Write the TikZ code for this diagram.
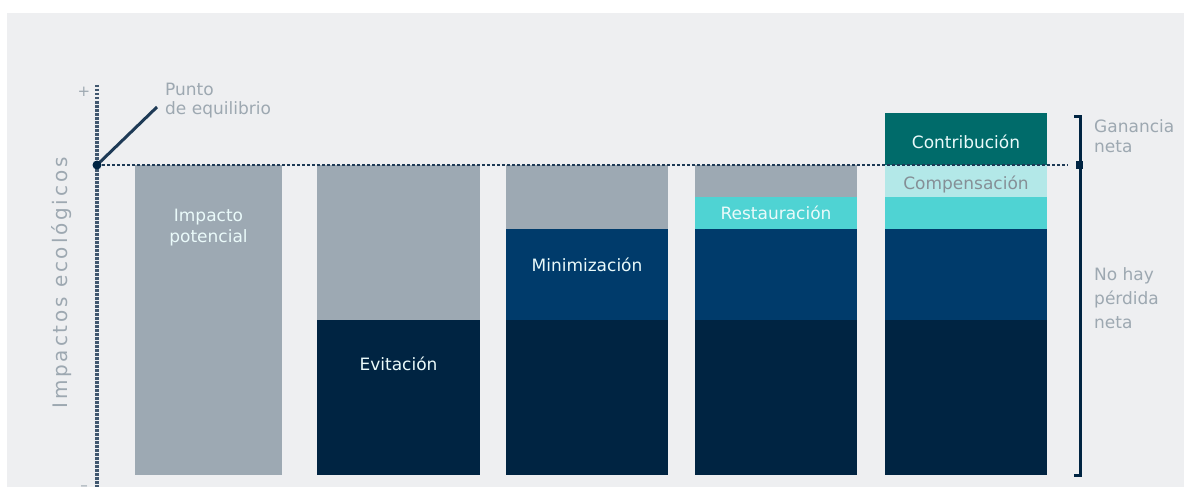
\documentclass[tikz,border=0pt]{standalone}
\usepackage{fontspec}
\setmainfont{DejaVu Sans}
\newfontfamily\spacedfont[LetterSpace=14]{DejaVu Sans}
\usetikzlibrary{positioning}

\definecolor{panelgray}{HTML}{EEEFF1}
\definecolor{impactgray}{HTML}{9DA9B3}
\definecolor{deepnavy}{HTML}{002442}
\definecolor{midblue}{HTML}{003B6B}
\definecolor{aqua}{HTML}{4FD3D3}
\definecolor{paleaqua}{HTML}{B3E8E8}
\definecolor{deepteal}{HTML}{006B6A}
\definecolor{labelgray}{HTML}{9DA8B1}
\definecolor{linenavy}{HTML}{1E3A56}

\begin{document}
\begin{tikzpicture}[x=1pt, y=-1pt,
        barlabel/.style={text=white!88!aqua, font=\fontsize{17}{21}\selectfont, align=center},
        sidelabel/.style={text=labelgray, font=\fontsize{17}{20}\selectfont, align=left, anchor=north west, inner sep=0pt}]
        \useasboundingbox (0, 0) rectangle (1184, 487);
        \fill[white] (0, 0) rectangle (1184, 487);
        \fill[panelgray] (7, 13) rectangle (1184, 487);

        % bar 1
        \fill[impactgray] (135, 165) rectangle (282, 475);
        % bar 2
        \fill[impactgray] (317, 165) rectangle (480, 320);
        \fill[deepnavy] (317, 320) rectangle (480, 475);
        % bar 3
        \fill[impactgray] (506, 165) rectangle (668, 229);
        \fill[midblue] (506, 229) rectangle (668, 320);
        \fill[deepnavy] (506, 320) rectangle (668, 475);
        % bar 4
        \fill[impactgray] (695, 165) rectangle (857, 197);
        \fill[aqua] (695, 197) rectangle (857, 229);
        \fill[midblue] (695, 229) rectangle (857, 320);
        \fill[deepnavy] (695, 320) rectangle (857, 475);
        % bar 5
        \fill[deepteal] (885, 113) rectangle (1047, 165);
        \fill[paleaqua] (885, 165) rectangle (1047, 197);
        \fill[aqua] (885, 197) rectangle (1047, 229);
        \fill[midblue] (885, 229) rectangle (1047, 320);
        \fill[deepnavy] (885, 320) rectangle (1047, 475);

        \node[barlabel] (impacto) at (208.5, 228) {Impacto\\potencial};
        \node[barlabel] (evitacion) at (398.5, 364) {Evitación};
        \node[barlabel] (minimizacion) at (587, 265) {Minimización};
        \node[barlabel] (restauracion) at (776, 213) {Restauración};
        \node[barlabel] (contribucion) at (966, 142) {Contribución};
        \node[barlabel, text=labelgray!85!black] (compensacion) at (966, 184) {Compensación};

        % axis and equilibrium line
        \draw[linenavy!85, line width=3.5pt, dash pattern=on 2.5pt off 1.5pt] (97, 85) -- (97, 490);
        \node[text=labelgray, font=\fontsize{15}{15}\selectfont] (plus) at (84, 92) {+};
        \node[text=labelgray, font=\fontsize{15}{15}\selectfont, anchor=north] (minus) at (84, 482) {–};
        \node[text=labelgray, font=\spacedfont\fontsize{20}{20}\selectfont, rotate=90] (ejey) at (62, 283) {Impactos ecológicos};

        \coordinate (equilibrio) at (97, 165);
        \coordinate (bracketmid) at (1068, 165);
        \draw[linenavy, line width=2.5pt, dash pattern=on 3pt off 2pt] (equilibrio) -- (bracketmid);
        \node[sidelabel, font=\fontsize{17}{19}\selectfont] (punto) at (165, 83) {Punto\\de equilibrio};
        \draw[linenavy, line width=3pt] (equilibrio) -- (157, 107);
        \fill[deepnavy] (equilibrio) circle [radius=4.5];

        % bracket
        \draw[deepnavy, line width=3pt] (1074, 116) -- (1080, 116) -- (1080, 475) -- (1074, 475);
        \fill[deepnavy] (1076, 161) rectangle (1083, 169);
        \node[sidelabel] (ganancia) at (1094, 119) {Ganancia\\neta};
        \node[sidelabel, font=\fontsize{17}{24}\selectfont] (perdida) at (1094, 267) {No hay\\pérdida\\neta};
\end{tikzpicture}
\end{document}
